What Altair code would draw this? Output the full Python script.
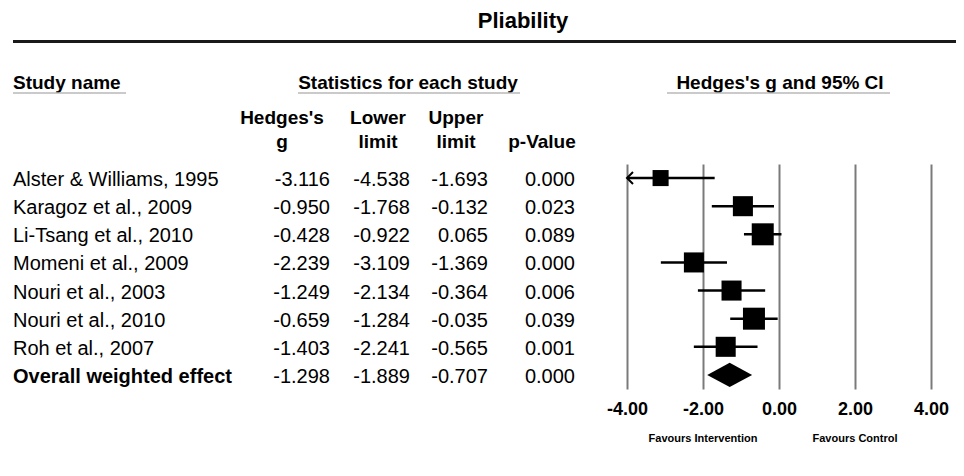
import altair as alt
import pandas as pd

# ---------------- data ----------------
studies = ["Alster & Williams, 1995", "Karagoz et al., 2009", "Li-Tsang et al., 2010",
           "Momeni et al., 2009", "Nouri et al., 2003", "Nouri et al., 2010", "Roh et al., 2007"]
hedges_g = [-3.116, -0.950, -0.428, -2.239, -1.249, -0.659, -1.403]
lower = [-4.538, -1.768, -0.922, -3.109, -2.134, -1.284, -2.241]
upper = [-1.693, -0.132, 0.065, -1.369, -0.364, -0.035, -0.565]
p_value = [0.000, 0.023, 0.089, 0.000, 0.006, 0.039, 0.001]
weight = [9.1, 14.2, 17.1, 14.2, 14.2, 17.1, 14.2]   # relative weight (%)

overall_name = "Overall weighted effect"
overall_g = -1.298
overall_lower = -1.889
overall_upper = -0.707
overall_p = 0.000

x_ticks = [-4, -2, 0, 2, 4]
x_domain = [-4, 4]

# ---------------- tables ----------------
n = len(studies)
rows_df = pd.DataFrame({
    "name": studies + [overall_name],
    "g": hedges_g + [overall_g],
    "lo": lower + [overall_lower],
    "hi": upper + [overall_upper],
    "p": p_value + [overall_p],
    "row": list(range(n + 1)),
    "overall": [False] * n + [True],
})
study_df = rows_df[~rows_df["overall"]].copy()
study_df["weight"] = weight

half_h = 0.43  # diamond half height in row units
diamond_df = pd.DataFrame({
    "x": [overall_lower, overall_g, overall_upper],
    "top": [n, n - half_h, n],
    "bottom": [n, n + half_h, n],
})

FONT = "Liberation Sans"
MINUS = "\u2212"

xs = alt.Scale(domain=x_domain, nice=False, zero=False)
ys = alt.Scale(domain=[-0.5, n + 0.5], reverse=True, nice=False, zero=False)
x_axis = alt.Axis(values=x_ticks, grid=True, gridColor="#7a7a7a", gridWidth=2, gridOpacity=1,
                  domain=False, ticks=False, tickSize=0, labelFont=FONT, labelFontSize=18,
                  labelFontWeight="bold", labelColor="black", labelPadding=11,
                  labelFlush=False, labelOverlap=False,
                  labelExpr=f"replace(format(datum.value, '.2f'), '{MINUS}', '-')")


def X(field):
    return alt.X(field, type="quantitative", scale=xs, axis=x_axis, title=None)


Y = alt.Y("row:Q", scale=ys, axis=None)


def label(text, x, y, size=19, weight="bold", align="center"):
    return alt.Chart(pd.DataFrame({"t": [text]})).mark_text(
        font=FONT, fontSize=size, fontWeight=weight, align=align, baseline="middle", color="black"
    ).encode(text="t:N", x=alt.value(x), y=alt.value(y))


def hline(x1, x2, y, color, width):
    return alt.Chart(pd.DataFrame({"a": [0]})).mark_rule(color=color, strokeWidth=width).encode(
        x=alt.value(x1), x2=alt.value(x2), y=alt.value(y))


# ---------------- forest plot ----------------
ci = alt.Chart(study_df).transform_calculate(
    lo_c=f"max(datum.lo, {x_domain[0]})"
).mark_rule(color="black", strokeWidth=2.5).encode(x=X("lo_c"), x2="hi:Q", y=Y)

squares = alt.Chart(study_df).mark_square(color="black", opacity=1).encode(
    x=X("g"), y=Y,
    size=alt.Size("weight:Q", scale=alt.Scale(domain=[0, 20], range=[0, 566]), legend=None))

arrow = alt.Chart(study_df).transform_filter(
    f"datum.lo < {x_domain[0]}"
).transform_calculate(xa=f"{x_domain[0]}").mark_point(
    shape="M1,-1L0,0L1,1", size=144, filled=False, color="black", strokeWidth=2, opacity=1
).encode(x=X("xa"), y=Y)

diamond = alt.Chart(diamond_df).mark_area(color="black", orient="vertical", opacity=1).encode(
    x=X("x"), y=alt.Y("top:Q", scale=ys, axis=None), y2="bottom:Q")

# ---------------- table text ----------------
base = alt.Chart(rows_df).transform_calculate(
    g_txt=f"replace(format(datum.g, '.3f'), '{MINUS}', '-')",
    lo_txt=f"replace(format(datum.lo, '.3f'), '{MINUS}', '-')",
    hi_txt=f"replace(format(datum.hi, '.3f'), '{MINUS}', '-')",
    p_txt="format(datum.p, '.3f')",
)
txt_kw = dict(font=FONT, fontSize=20, baseline="middle", color="black", dy=2)
names = base.transform_filter("!datum.overall").mark_text(align="left", **txt_kw).encode(
    text="name:N", x=alt.value(-614), y=Y)
names_b = base.transform_filter("datum.overall").mark_text(align="left", fontWeight="bold", **txt_kw).encode(
    text="name:N", x=alt.value(-614), y=Y)
col_g = base.mark_text(align="right", **txt_kw).encode(text="g_txt:N", x=alt.value(-297), y=Y)
col_lo = base.mark_text(align="right", **txt_kw).encode(text="lo_txt:N", x=alt.value(-217), y=Y)
col_hi = base.mark_text(align="right", **txt_kw).encode(text="hi_txt:N", x=alt.value(-139), y=Y)
col_p = base.mark_text(align="right", **txt_kw).encode(text="p_txt:N", x=alt.value(-52), y=Y)

# ---------------- headers ----------------
headers = [
    label("Pliability", -104, -143, size=22),
    hline(-614, 329, -122.5, "#1a1a1a", 3),
    label("Study name", -614, -81, align="left"),
    hline(-614, -501, -71, "#b8b8b8", 1.5),
    label("Statistics for each study", -219, -81),
    hline(-329, -107, -71, "#b8b8b8", 1.5),
    label("Hedges's g and 95% CI", 153, -81),
    hline(40, 263, -71, "#b8b8b8", 1.5),
    label("Hedges's", -345, -46),
    label("g", -345, -22),
    label("Lower", -249, -46),
    label("limit", -249, -22),
    label("Upper", -171, -46),
    label("limit", -171, -22),
    label("p-Value", -85, -22),
    label("Favours Intervention", 76, 275, size=11),
    label("Favours Control", 228, 275, size=11),
]

chart = alt.layer(
    ci, squares, arrow, diamond, names, names_b, col_g, col_lo, col_hi, col_p, *headers
).properties(
    width=304, height=225,
    padding={"left": 619, "top": 156, "right": 25, "bottom": 70},
    autosize=alt.AutoSizeParams(type="none"),
    background="white",
).configure_view(stroke=None)

chart.save("out.html", embed_options={"renderer": "svg", "actions": False})
